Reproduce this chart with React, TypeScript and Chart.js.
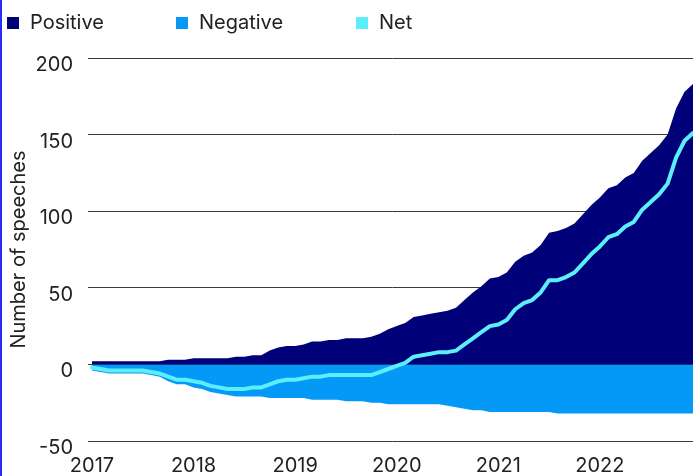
import React, { useEffect, useRef } from 'react';
import { Chart, registerables } from 'chart.js';

Chart.register(...registerables);

const years = ['2017', '2018', '2019', '2020', '2021', '2022'];
const monthsOfYear = ['01', '02', '03', '04', '05', '06', '07', '08', '09', '10', '11', '12'];
const categories = years.flatMap((y) => monthsOfYear.map((m) => `${y}-${m}`));

const positive = [
  2, 2, 2, 2, 2, 2, 2, 2, 2, 3, 3, 3,
  4, 4, 4, 4, 4, 5, 5, 6, 6, 9, 11, 12,
  12, 13, 15, 15, 16, 16, 17, 17, 17, 18, 20, 23,
  25, 27, 31, 32, 33, 34, 35, 37, 42, 47, 51, 56,
  57, 60, 67, 71, 73, 78, 86, 87, 89, 92, 98, 104,
  109, 115, 117, 122, 125, 133, 138, 143, 150, 167, 178, 183,
];

const negative = [
  -4, -5, -6, -6, -6, -6, -6, -7, -8, -11, -13, -13,
  -15, -16, -18, -19, -20, -21, -21, -21, -21, -22, -22, -22,
  -22, -22, -23, -23, -23, -23, -24, -24, -24, -25, -25, -26,
  -26, -26, -26, -26, -26, -26, -27, -28, -29, -30, -30, -31,
  -31, -31, -31, -31, -31, -31, -31, -32, -32, -32, -32, -32,
  -32, -32, -32, -32, -32, -32, -32, -32, -32, -32, -32, -32,
];

const net = [
  -2, -3, -4, -4, -4, -4, -4, -5, -6, -8, -10, -10,
  -11, -12, -14, -15, -16, -16, -16, -15, -15, -13, -11, -10,
  -10, -9, -8, -8, -7, -7, -7, -7, -7, -7, -5, -3,
  -1, 1, 5, 6, 7, 8, 8, 9, 13, 17, 21, 25,
  26, 29, 36, 40, 42, 47, 55, 55, 57, 60, 66, 72,
  77, 83, 85, 90, 93, 101, 106, 111, 118, 135, 146, 151,
];

const yMin = -50;
const yMax = 200;
const yStep = 50;

const seriesNames = ['Positive', 'Negative', 'Net'];
const seriesColors = ['#000078', '#0599f7', '#5ceefc'];

const FONT = 'Inter, "Noto Sans", sans-serif';
const TEXT = '#222222';

export default function App() {
  const canvasRef = useRef<HTMLCanvasElement | null>(null);

  useEffect(() => {
    const canvas = canvasRef.current;
    if (!canvas) return;
    const chart = new Chart(canvas, {
      type: 'line',
      data: {
        labels: categories,
        datasets: [
          {
            label: seriesNames[0],
            data: positive,
            fill: 'origin',
            backgroundColor: seriesColors[0],
            borderColor: seriesColors[0],
            borderWidth: 0,
            pointRadius: 0,
            tension: 0,
            order: 2,
          },
          {
            label: seriesNames[1],
            data: negative,
            fill: 'origin',
            backgroundColor: seriesColors[1],
            borderColor: seriesColors[1],
            borderWidth: 0,
            pointRadius: 0,
            tension: 0,
            order: 2,
          },
          {
            label: seriesNames[2],
            data: net,
            fill: false,
            borderColor: seriesColors[2],
            borderWidth: 4,
            borderJoinStyle: 'round',
            borderCapStyle: 'round',
            pointRadius: 0,
            tension: 0,
            order: 1,
          },
        ],
      },
      options: {
        responsive: false,
        animation: false,
        devicePixelRatio: 1,
        layout: { padding: { top: 58, right: 0, left: 0, bottom: 0 } },
        plugins: {
          legend: { display: false },
          tooltip: { enabled: false },
        },
        scales: {
          x: {
            type: 'category',
            offset: false,
            grid: { display: false, drawTicks: false },
            border: { display: false },
            ticks: {
              autoSkip: false,
              maxRotation: 0,
              minRotation: 0,
              padding: 13,
              color: TEXT,
              font: { family: FONT, size: 20 },
              callback: (_v: any, idx: number) => {
                const c = categories[idx];
                return c.endsWith('-01') ? c.slice(0, 4) : '';
              },
            },
            afterFit: (scale: any) => {
              scale.height = 35;
              scale.paddingLeft = 0;
              scale.paddingRight = 0;
            },
          },
          y: {
            min: yMin,
            max: yMax,
            grid: {
              color: '#3a3a3a',
              lineWidth: 1,
              drawTicks: true,
              tickLength: 4,
            },
            border: { display: false },
            ticks: {
              stepSize: yStep,
              padding: 15,
              labelOffset: 7,
              color: TEXT,
              font: { family: FONT, size: 20 },
            },
            title: {
              display: true,
              text: 'Number of speeches',
              color: TEXT,
              font: { family: FONT, size: 20 },
              padding: { top: 7, bottom: 0 },
            },
            afterFit: (scale: any) => {
              scale.width = 92;
            },
          },
        },
      },
    } as any);
    return () => chart.destroy();
  }, []);

  const legendLeft = [7, 176, 356];

  return (
    <div
      style={{
        position: 'fixed',
        left: 0,
        top: 0,
        width: 693,
        height: 476,
        background: '#ffffff',
        overflow: 'hidden',
      }}
    >
      <canvas ref={canvasRef} width={693} height={476} style={{ display: 'block', width: 693, height: 476 }} />
      {seriesNames.map((name, i) => (
        <div
          key={name}
          style={{
            position: 'absolute',
            left: legendLeft[i],
            top: 10,
            height: 24,
            display: 'flex',
            alignItems: 'center',
            fontFamily: FONT,
            fontSize: 20,
            lineHeight: '24px',
            color: TEXT,
            whiteSpace: 'nowrap',
          }}
        >
          <span
            style={{
              display: 'inline-block',
              width: 12,
              height: 12,
              background: seriesColors[i],
              marginRight: 11,
              marginTop: 2,
            }}
          />
          <span>{name}</span>
        </div>
      ))}
      <div
        style={{
          position: 'absolute',
          left: 0,
          top: 0,
          width: 2,
          height: 476,
          background: '#2b2bf5',
        }}
      />
    </div>
  );
}
